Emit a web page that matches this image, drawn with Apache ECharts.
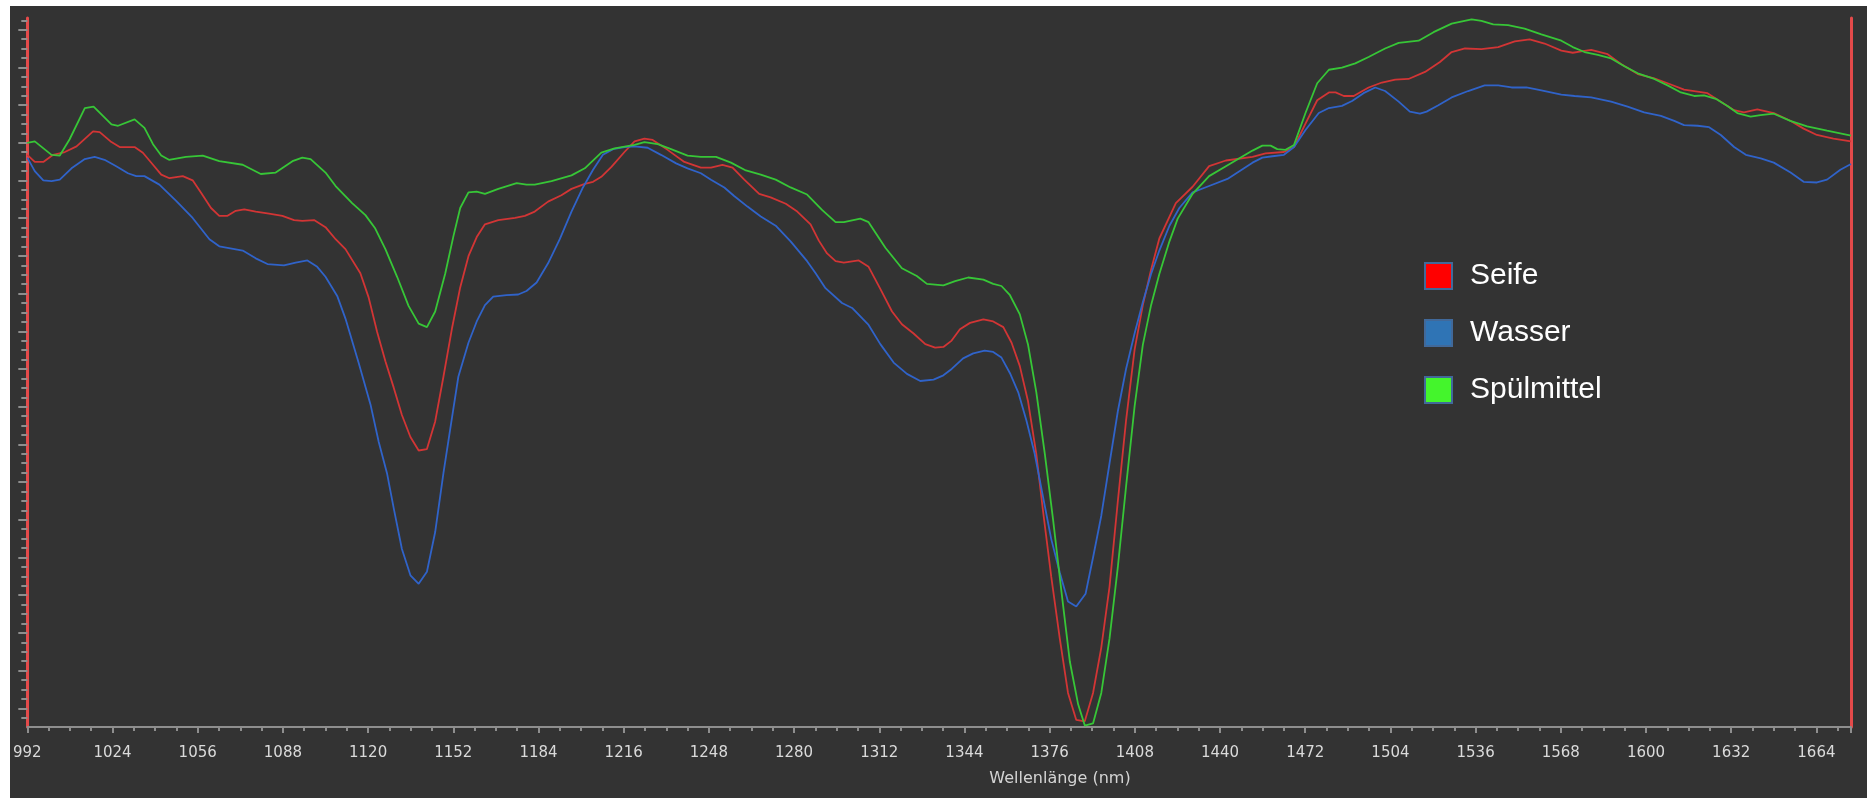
<!DOCTYPE html>
<html>
<head>
<meta charset="utf-8">
<script src="https://cdn.jsdelivr.net/npm/echarts@6/dist/echarts.min.js"></script>
<style>
  html, body { margin: 0; padding: 0; background: #ffffff; width: 1867px; height: 798px; overflow: hidden; }
  #chart { position: absolute; left: 10px; top: 6px; width: 1857px; height: 792px; }
</style>
</head>
<body>
<div id="chart"></div>
<script>
// NIR spectra: wavelength (nm) and relative signal (0..100 of the plot height)
const seife = [
  [992, 80.7], [994.8, 79.7], [998, 79.7], [1001.7, 80.7], [1006.1, 81.1], [1010.5, 81.9], [1016.7, 84.0], [1019.2, 83.9],
  [1023.6, 82.5], [1026.7, 81.8], [1032.3, 81.8], [1035.4, 81.0], [1039.2, 79.3], [1042.3, 77.9], [1045.4, 77.4], [1050.4, 77.7],
  [1054.1, 77.1], [1057.2, 75.4], [1061.0, 73.2], [1064.1, 72.1], [1067.2, 72.1], [1070.3, 72.8], [1073.5, 73.0], [1077.8, 72.7],
  [1082.8, 72.4], [1087.8, 72.1], [1092.2, 71.5], [1095.3, 71.4], [1099.7, 71.5], [1104.0, 70.5], [1107.8, 68.8], [1111.5, 67.4],
  [1117.1, 64.0], [1120.2, 60.6], [1123.4, 55.7], [1126.5, 51.6], [1129.6, 47.9], [1132.7, 44.0], [1135.9, 40.9], [1139.0, 39.0],
  [1142.1, 39.2], [1145.2, 43.1], [1148.3, 49.4], [1151.5, 56.2], [1154.6, 62.0], [1157.7, 66.4], [1160.8, 69.1], [1163.9, 70.9],
  [1168.9, 71.5], [1175.2, 71.8], [1178.9, 72.1], [1182.6, 72.7], [1187.6, 74.1], [1192.6, 75.0], [1196.4, 75.9], [1201.4, 76.6],
  [1204.5, 76.9], [1207.6, 77.6], [1211.4, 79.0], [1216.3, 81.1], [1220.1, 82.6], [1223.8, 83.0], [1226.9, 82.8], [1232.5, 81.4],
  [1238.8, 79.7], [1245.0, 78.9], [1248.8, 78.9], [1253.1, 79.3], [1256.9, 78.9], [1261.3, 77.2], [1266.9, 75.2], [1271.2, 74.7],
  [1276.9, 73.8], [1281.2, 72.7], [1286.2, 70.9], [1289.3, 68.6], [1292.4, 66.8], [1295.6, 65.7], [1298.7, 65.5], [1304.3, 65.8],
  [1308.0, 64.9], [1312.4, 61.8], [1316.8, 58.6], [1320.5, 56.8], [1324.9, 55.5], [1329.3, 54.0], [1333.0, 53.5], [1336.1, 53.6],
  [1339.2, 54.5], [1342.3, 56.1], [1346.1, 57.0], [1351.1, 57.5], [1354.8, 57.2], [1358.6, 56.4], [1361.7, 54.2], [1364.8, 50.9],
  [1367.9, 45.9], [1371.0, 38.5], [1373.5, 30.5], [1376.6, 21.2], [1379.8, 12.5], [1382.9, 4.8], [1386.0, 1.0], [1389.2, 0.8],
  [1392.3, 4.8], [1395.4, 11.2], [1398.5, 19.8], [1401.6, 31.8], [1404.7, 43.2], [1407.9, 53.2], [1411.0, 59.5], [1414.1, 64.5],
  [1417.2, 68.9], [1423.4, 73.9], [1429.7, 76.2], [1435.9, 79.1], [1442.2, 79.9], [1452.2, 80.4], [1457.1, 80.9], [1464.0, 81.1],
  [1467.8, 81.8], [1472.1, 85.1], [1476.5, 88.4], [1480.9, 89.5], [1483.4, 89.5], [1486.5, 89.0], [1490.2, 89.0], [1495.8, 90.2],
  [1500.8, 90.9], [1505.8, 91.3], [1510.8, 91.4], [1517.0, 92.4], [1522.6, 93.8], [1527.0, 95.2], [1532.0, 95.7], [1538.2, 95.6],
  [1544.5, 95.9], [1550.7, 96.7], [1556.3, 97.0], [1561.9, 96.4], [1568.2, 95.4], [1572.5, 95.1], [1575.7, 95.3], [1579.4, 95.5],
  [1585.6, 94.9], [1590.6, 93.5], [1596.9, 92.1], [1603.1, 91.5], [1608.1, 90.8], [1614.3, 89.9], [1618.1, 89.7], [1623.1, 89.4],
  [1628.1, 88.2], [1633.1, 87.0], [1636.8, 86.7], [1641.8, 87.1], [1648.0, 86.6], [1654.2, 85.5], [1659.2, 84.4], [1664.2, 83.5],
  [1670.4, 83.0], [1677, 82.6]
];

const wasser = [
  [992, 80.3], [994.8, 78.4], [998, 77.1], [1001.1, 77.0], [1004.2, 77.2], [1008.6, 78.8], [1013.6, 80.1], [1017.3, 80.4],
  [1021.0, 80.0], [1025.4, 79.1], [1029.8, 78.1], [1032.9, 77.7], [1036.0, 77.7], [1041.6, 76.5], [1047.9, 74.2], [1054.1, 71.8],
  [1060.4, 68.8], [1064.1, 67.8], [1072.9, 67.2], [1077.8, 66.1], [1082.2, 65.3], [1088.4, 65.1], [1092.8, 65.5], [1097.2, 65.8],
  [1100.9, 64.9], [1104.0, 63.5], [1108.4, 60.8], [1111.5, 57.6], [1116.5, 51.3], [1120.9, 45.5], [1124.0, 40.2], [1127.1, 35.8],
  [1129.6, 30.9], [1132.7, 25.1], [1135.9, 21.4], [1139.0, 20.2], [1142.1, 21.9], [1145.2, 27.5], [1148.3, 35.8], [1151.5, 43.6],
  [1153.9, 49.4], [1157.7, 54.2], [1160.8, 57.2], [1163.9, 59.5], [1167.0, 60.7], [1172.0, 60.9], [1176.4, 61.0], [1179.5, 61.5],
  [1183.3, 62.7], [1187.6, 65.4], [1192.0, 68.8], [1196.4, 72.7], [1200.7, 76.1], [1204.5, 78.6], [1208.2, 80.7], [1212.0, 81.5],
  [1216.3, 81.8], [1220.1, 81.9], [1225.0, 81.7], [1230.0, 80.7], [1235.7, 79.5], [1240.0, 78.8], [1245.0, 78.1], [1248.8, 77.2],
  [1253.8, 76.1], [1257.5, 74.9], [1262.5, 73.4], [1267.5, 72.0], [1273.1, 70.7], [1278.7, 68.5], [1284.9, 65.7], [1288.1, 64.0],
  [1291.8, 61.9], [1298.0, 59.8], [1301.8, 59.1], [1308.0, 56.7], [1312.4, 54.0], [1317.4, 51.4], [1322.4, 49.8], [1327.4, 48.8],
  [1332.4, 49.0], [1336.1, 49.6], [1339.2, 50.5], [1343.5, 52.0], [1347.3, 52.7], [1351.6, 53.1], [1354.8, 52.9], [1357.9, 52.1],
  [1361.1, 49.9], [1364.2, 47.2], [1367.3, 43.2], [1370.4, 38.5], [1373.5, 32.5], [1376.6, 26.5], [1379.8, 21.8], [1382.9, 17.7],
  [1386.0, 17.0], [1389.5, 18.8], [1392.3, 23.9], [1395.4, 29.8], [1398.5, 37.2], [1401.6, 44.5], [1404.7, 50.5], [1407.9, 55.5],
  [1411.0, 59.9], [1414.1, 63.9], [1417.2, 67.2], [1421.0, 70.7], [1424.7, 73.2], [1429.7, 75.4], [1435.9, 76.3], [1442.8, 77.3],
  [1452.2, 79.6], [1455.9, 80.3], [1459.7, 80.5], [1464.0, 80.7], [1467.8, 81.8], [1472.1, 84.2], [1477.1, 86.6], [1480.9, 87.3],
  [1485.8, 87.6], [1489.6, 88.3], [1493.9, 89.4], [1498.3, 90.2], [1502.0, 89.7], [1507.1, 88.2], [1511.3, 86.8], [1515.1, 86.5],
  [1517.6, 86.8], [1522.0, 87.7], [1527.0, 88.8], [1533.2, 89.7], [1539.4, 90.5], [1544.5, 90.5], [1549.5, 90.2], [1555.1, 90.2],
  [1560.7, 89.8], [1568.2, 89.2], [1573.2, 89.0], [1579.4, 88.8], [1586.9, 88.2], [1593.1, 87.5], [1599.3, 86.7], [1605.6, 86.2],
  [1610.6, 85.5], [1614.3, 84.9], [1619.4, 84.8], [1623.7, 84.6], [1628.1, 83.5], [1633.1, 81.8], [1637.5, 80.7], [1643.1, 80.2],
  [1648.0, 79.6], [1654.3, 78.2], [1659.2, 76.9], [1664.2, 76.8], [1668.0, 77.2], [1673.0, 78.6], [1677, 79.4]
];

const spuelmittel = [
  [992, 82.4], [994.8, 82.6], [1001.1, 80.7], [1004.2, 80.6], [1007.9, 82.9], [1013.6, 87.3], [1016.9, 87.5], [1023.6, 85.0],
  [1026.1, 84.8], [1032.3, 85.7], [1036.0, 84.5], [1039.2, 82.2], [1042.3, 80.6], [1045.2, 80.0], [1051.6, 80.4], [1057.9, 80.6],
  [1064.1, 79.8], [1072.9, 79.3], [1079.7, 78.0], [1085.3, 78.2], [1091.6, 79.8], [1095.3, 80.3], [1098.4, 80.1], [1104.0, 78.2],
  [1107.8, 76.3], [1114.0, 73.9], [1119.0, 72.2], [1122.7, 70.3], [1126.5, 67.4], [1130.9, 63.5], [1135.2, 59.4], [1139.0, 56.9],
  [1142.1, 56.4], [1145.2, 58.6], [1149.0, 64.0], [1152.1, 69.3], [1154.6, 73.2], [1157.7, 75.4], [1160.8, 75.5], [1163.9, 75.2],
  [1168.9, 75.9], [1175.8, 76.7], [1179.5, 76.5], [1182.6, 76.5], [1188.9, 77.0], [1196.4, 77.8], [1201.4, 78.8], [1207.6, 81.0],
  [1212.6, 81.6], [1220.1, 82.1], [1223.8, 82.5], [1228.8, 82.2], [1233.8, 81.5], [1240.0, 80.6], [1245.0, 80.4], [1250.7, 80.4],
  [1256.3, 79.6], [1261.9, 78.5], [1267.5, 77.9], [1273.1, 77.2], [1278.7, 76.1], [1284.9, 75.1], [1290.6, 72.9], [1295.6, 71.2],
  [1298.7, 71.2], [1304.9, 71.7], [1308.0, 71.2], [1314.3, 67.6], [1320.5, 64.7], [1326.1, 63.6], [1329.9, 62.5], [1336.1, 62.3],
  [1340.5, 62.9], [1345.4, 63.4], [1351.1, 63.1], [1354.8, 62.5], [1357.9, 62.2], [1361.1, 60.9], [1364.8, 58.2], [1367.9, 53.9],
  [1371.0, 47.2], [1374.2, 38.5], [1377.3, 29.2], [1380.4, 19.2], [1383.6, 9.2], [1386.7, 3.2], [1389.2, 0.2], [1392.3, 0.5],
  [1395.4, 4.8], [1398.5, 12.5], [1401.6, 22.5], [1404.7, 33.9], [1407.9, 45.2], [1411.0, 53.9], [1414.1, 59.5], [1417.2, 63.9],
  [1421.0, 68.5], [1424.1, 71.7], [1429.7, 75.2], [1435.9, 77.7], [1442.2, 79.1], [1452.2, 81.3], [1455.9, 82.0], [1459.0, 82.0],
  [1461.5, 81.5], [1464.6, 81.4], [1467.8, 82.1], [1472.1, 86.6], [1476.5, 90.8], [1480.9, 92.7], [1485.8, 93.0], [1490.8, 93.6],
  [1495.8, 94.5], [1502.0, 95.7], [1507.1, 96.5], [1514.6, 96.8], [1520.2, 98.0], [1527.0, 99.2], [1534.5, 99.8], [1538.2, 99.6],
  [1542.6, 99.1], [1548.2, 99.0], [1554.4, 98.5], [1560.7, 97.7], [1568.2, 96.8], [1572.5, 95.9], [1576.9, 95.2], [1581.9, 94.8],
  [1586.9, 94.3], [1591.9, 93.2], [1596.9, 92.2], [1603.1, 91.4], [1608.1, 90.5], [1613.1, 89.5], [1618.1, 89.0], [1621.8, 89.1],
  [1626.2, 88.6], [1630.6, 87.6], [1634.3, 86.6], [1639.3, 86.1], [1643.0, 86.3], [1648.0, 86.5], [1654.2, 85.5], [1660.5, 84.7],
  [1668.0, 84.1], [1677, 83.4]
];

const seriesNames = ['Seife', 'Wasser', 'Spülmittel'];
const xAxisTitle = 'Wellenlänge (nm)';

// Unlabelled signal axis: tick marks only
const yMin = 0, yMax = 100;
const yMajorStart = 2.64, yMajorStep = 5.317;
const yMinorStep = yMajorStep / 4;
const yMajorTicks = [];
for (let v = yMajorStart; v <= yMax; v += yMajorStep) yMajorTicks.push(+v.toFixed(3));
const yMinorTicks = [];
for (let v = yMajorStart - 2 * yMinorStep; v <= yMax; v += yMinorStep) {
  if (v >= yMin) yMinorTicks.push(+v.toFixed(3));
}

const lineColors = ['#d23535', '#3063c9', '#37c637'];
const legendColors = ['#ff0000', '#2f74b5', '#44f52c'];
const legendBorder = '#41699a';

const grid = { left: 10, right: 16, top: 12, bottom: 71 };
const axisGrey = '#8e8e8e';
const cursorRed = '#e44a4a';

const chart = echarts.init(document.getElementById('chart'), null, { renderer: 'canvas' });

chart.setOption({
  backgroundColor: '#333333',
  animation: false,
  title: {
    text: xAxisTitle,
    left: 1045,
    top: 760,
    textAlign: 'center',
    textStyle: { color: '#d4d4d4', fontSize: 16, fontWeight: 'normal', fontFamily: 'DejaVu Sans' }
  },
  legend: {
    orient: 'vertical',
    left: 1414,
    top: 255,
    padding: 0,
    itemWidth: 27,
    itemHeight: 26,
    itemGap: 27,
    icon: 'rect',
    selectedMode: false,
    textStyle: { color: '#ffffff', fontSize: 30, lineHeight: 26, fontFamily: 'Liberation Sans', padding: [4, 0, 0, 13] },
    data: seriesNames.map((n, i) => ({
      name: n,
      itemStyle: { color: legendColors[i], borderColor: legendBorder, borderWidth: 2 }
    }))
  },
  grid: grid,
  xAxis: {
    type: 'value',
    min: 992,
    max: 1677,
    interval: 32,
    axisLine: { show: true, lineStyle: { color: axisGrey, width: 2 } },
    axisTick: { show: true, length: 6, lineStyle: { color: axisGrey, width: 2 } },
    minorTick: { show: true, splitNumber: 4, length: 4, lineStyle: { color: axisGrey, width: 2 } },
    axisLabel: {
      color: '#dadada', fontSize: 15, fontFamily: 'DejaVu Sans', margin: 19,
      showMaxLabel: false,
      formatter: (v) => String(v)
    },
    splitLine: { show: false },
    minorSplitLine: { show: false }
  },
  yAxis: [
    {
      type: 'value', min: yMin, max: yMax, position: 'left',
      axisLine: { show: true, lineStyle: { color: cursorRed, width: 3 } },
      axisTick: { show: true, length: 9, customValues: yMajorTicks, lineStyle: { color: axisGrey, width: 2 } },
      axisLabel: { show: false },
      splitLine: { show: false }
    },
    {
      type: 'value', min: yMin, max: yMax, position: 'left',
      axisLine: { show: false },
      axisTick: { show: true, length: 6, customValues: yMinorTicks, lineStyle: { color: axisGrey, width: 2 } },
      axisLabel: { show: false },
      splitLine: { show: false }
    },
    {
      type: 'value', min: yMin, max: yMax, position: 'right',
      axisLine: { show: true, lineStyle: { color: cursorRed, width: 3 } },
      axisTick: { show: false },
      axisLabel: { show: false },
      splitLine: { show: false }
    }
  ],
  series: [seife, wasser, spuelmittel].map((d, i) => ({
    name: seriesNames[i],
    type: 'line',
    data: d,
    showSymbol: false,
    symbol: 'none',
    smooth: false,
    lineStyle: { color: lineColors[i], width: 1.8 },
    itemStyle: { color: lineColors[i] },
    z: 3 + i
  }))
});
</script>
</body>
</html>
